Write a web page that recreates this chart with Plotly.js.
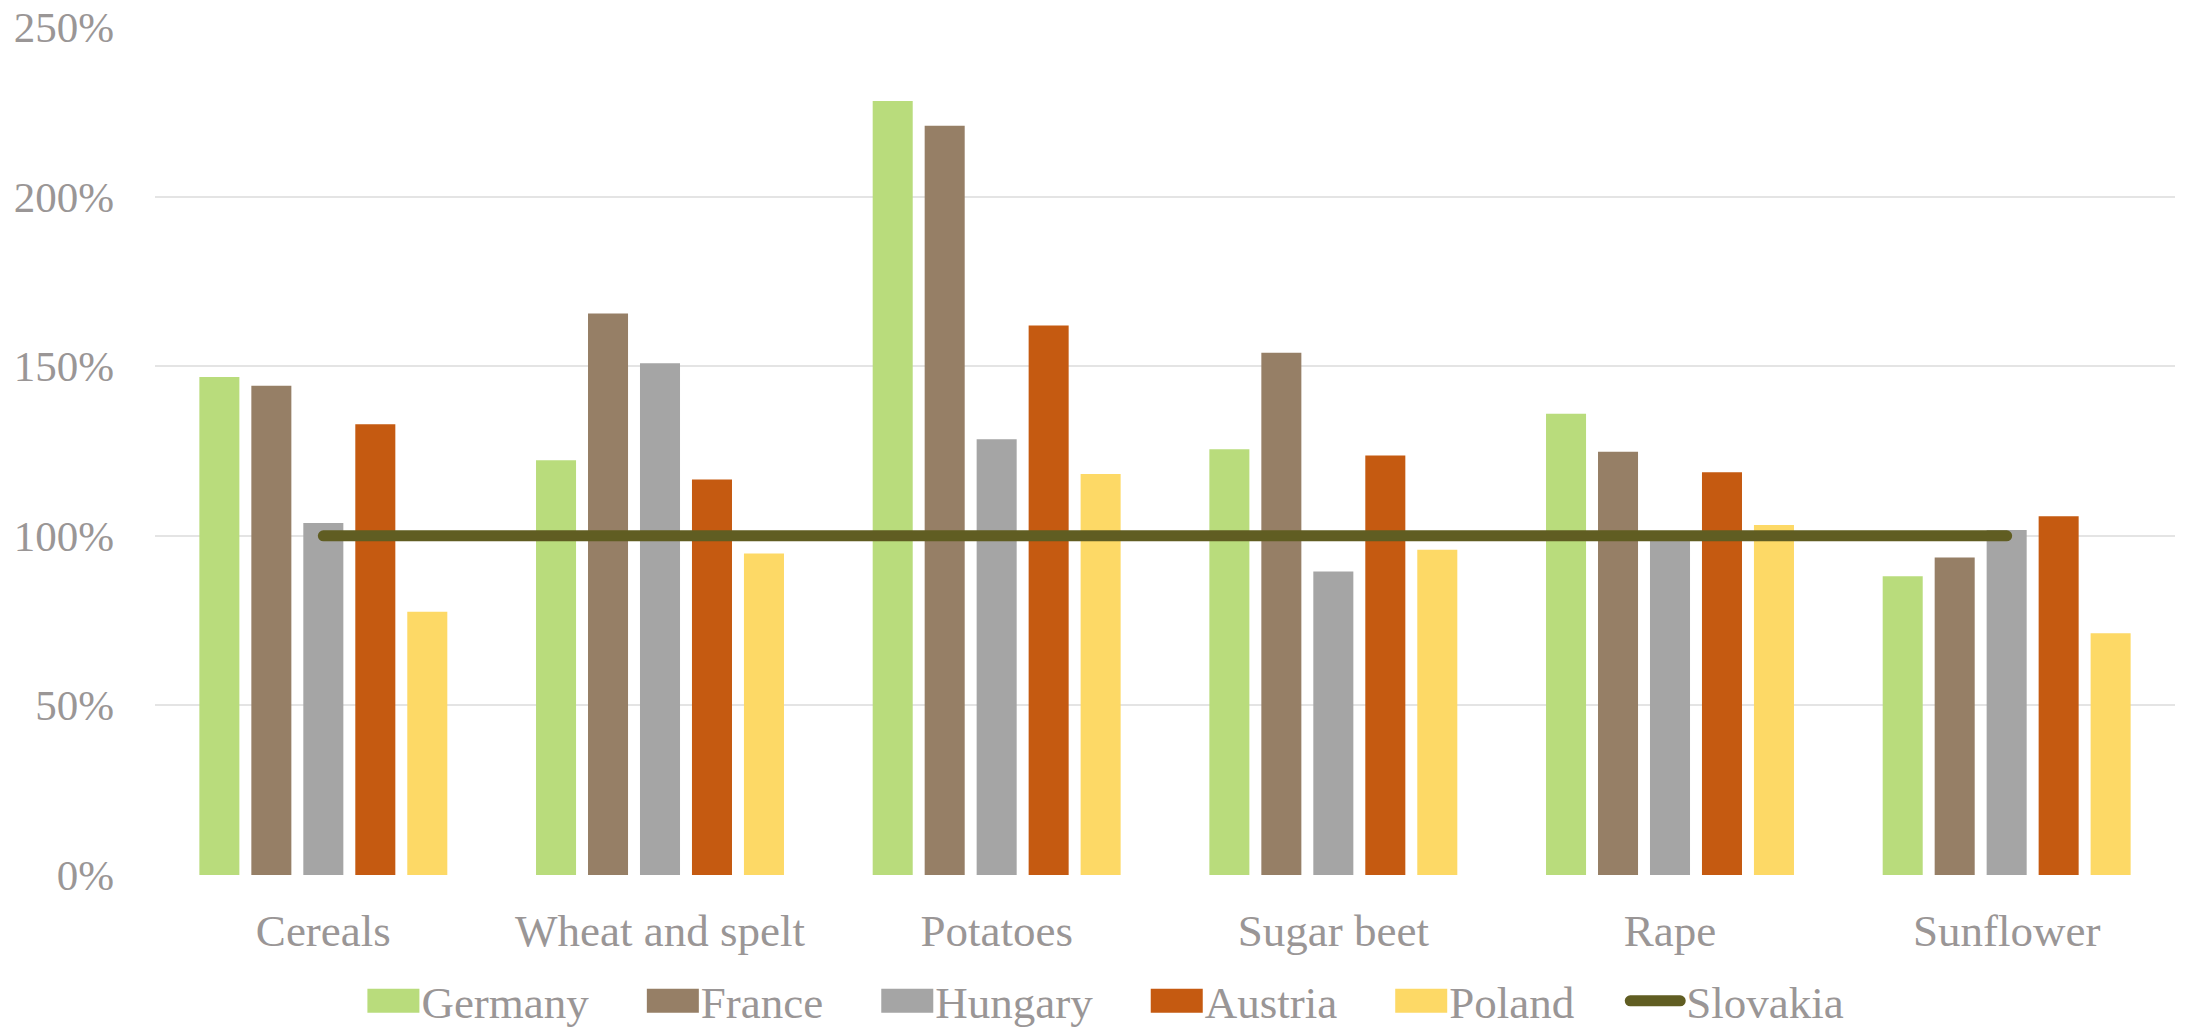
<!DOCTYPE html>
<html>
<head>
<meta charset="utf-8">
<script src="https://cdn.plot.ly/plotly-3.0.1.min.js"></script>
<style>
  html, body { margin: 0; padding: 0; background: #fff; }
  #chart { width: 2190px; height: 1032px; }
  .scatterlayer .js-line { stroke-linecap: round !important; }
  .legend .legendpoints path { d: path('M-23,-12h52v24h-52Z'); }
  .legend .legendlines path.js-line { d: path('M6,0h50'); stroke-linecap: round !important; stroke-width: 11px !important; }
</style>
</head>
<body>
<div id="chart"></div>
<script>
const categories = ["Cereals", "Wheat and spelt", "Potatoes", "Sugar beet", "Rape", "Sunflower"];
const germany  = [146.8, 122.3, 228.2, 125.5, 136.0, 88.1];
const france   = [144.2, 165.5, 220.9, 154.0, 124.8, 93.6];
const hungary  = [103.8, 150.9, 128.5, 89.5, 98.5, 101.7];
const austria  = [132.9, 116.6, 162.0, 123.7, 118.7, 105.8];
const poland   = [77.6, 94.8, 118.2, 95.9, 103.2, 71.3];
const slovakia = [100, 100, 100, 100, 100, 100];
const yTicks = [0, 50, 100, 150, 200, 250];
const seriesNames = ["Germany", "France", "Hungary", "Austria", "Poland", "Slovakia"];

const FONT = "'Palatino Linotype', 'Book Antiqua', Palatino, 'Liberation Serif', serif";
const TEXT = "#9a9696";
const PAD = "\u00a0\u00a0\u00a0\u00a0";

function barTrace(name, values, color) {
  return {
    type: "bar", name: name + PAD, x: categories, y: values,
    marker: { color: color, line: { width: 0 } },
    hoverinfo: "x+y+name"
  };
}

const data = [
  barTrace(seriesNames[0], germany, "#B9DC7C"),
  barTrace(seriesNames[1], france, "#967F66"),
  barTrace(seriesNames[2], hungary, "#A5A5A5"),
  barTrace(seriesNames[3], austria, "#C55A11"),
  barTrace(seriesNames[4], poland, "#FDD966"),
  {
    type: "scatter", mode: "lines", name: seriesNames[5], x: categories, y: slovakia,
    line: { color: "#605D22", width: 11 }
  }
];

const layout = {
  width: 2190, height: 1032,
  margin: { l: 155, r: 15, t: 27, b: 157, pad: 0 },
  paper_bgcolor: "#ffffff", plot_bgcolor: "#ffffff",
  font: { family: FONT, size: 45, color: TEXT },
  barmode: "group", bargap: 0.228, bargroupgap: 0.23,
  showlegend: true,
  legend: {
    orientation: "h", xref: "paper", x: 0.47, xanchor: "center",
    yref: "container", y: 0.03, yanchor: "middle",
    font: { family: FONT, size: 45, color: TEXT },
    itemwidth: 52, traceorder: "normal",
    bgcolor: "rgba(0,0,0,0)"
  },
  xaxis: {
    type: "category", showgrid: false, zeroline: false, showline: false,
    ticks: "", ticklabelstandoff: 25, automargin: false,
    tickfont: { family: FONT, size: 45, color: TEXT }
  },
  yaxis: {
    range: [0, 250], tickvals: yTicks, ticktext: yTicks.map(v => v + "%"),
    showgrid: true, gridcolor: "#e4e4e4", gridwidth: 2, automargin: false,
    zeroline: false, showline: false, ticks: "", ticklabelstandoff: 40,
    tickfont: { family: FONT, size: 43, color: TEXT }
  }
};

Plotly.newPlot("chart", data, layout, { staticPlot: true, displayModeBar: false });
</script>
</body>
</html>
